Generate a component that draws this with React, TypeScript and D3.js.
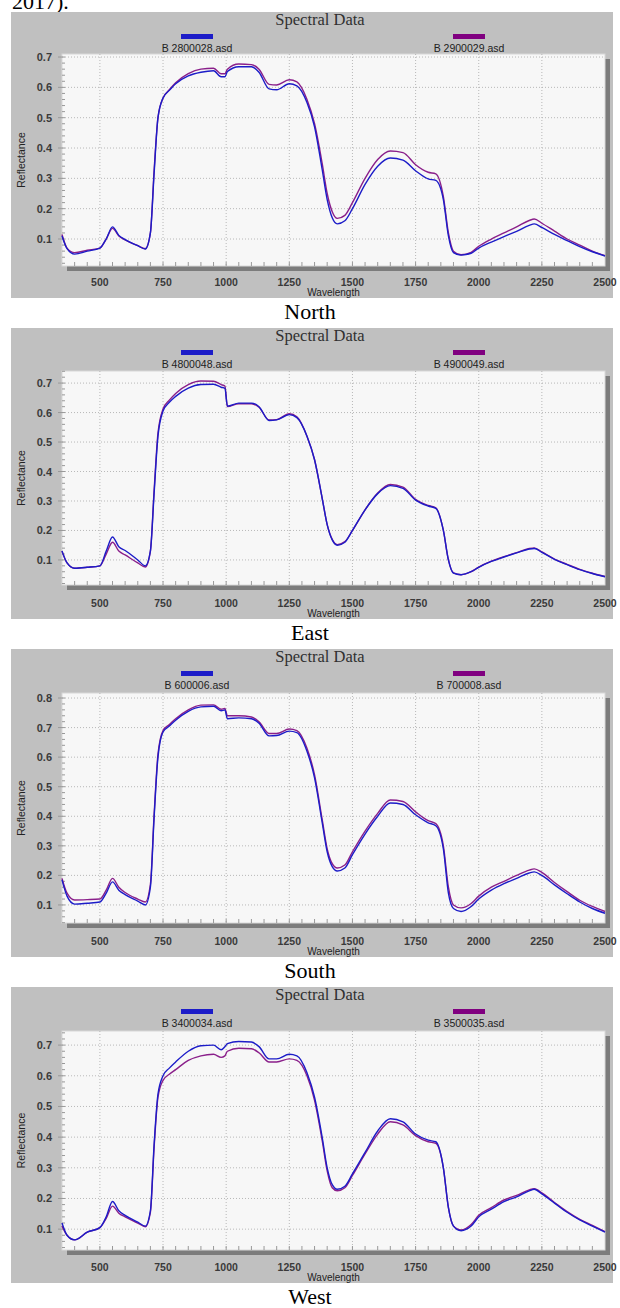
import React, { useEffect, useRef } from 'react';
import * as d3 from 'd3';

// wavelength samples (nm) shared by every spectrum
const wavelengths = [
  350, 370, 400, 450, 500, 525, 550, 575, 600, 650,
  680, 700, 715, 730, 750, 775, 800, 850, 900, 950,
  980, 995, 1005, 1050, 1100, 1130, 1170, 1200, 1250, 1280,
  1320, 1350, 1380, 1400, 1420, 1440, 1470, 1500, 1550, 1600,
  1650, 1700, 1750, 1800, 1830, 1860, 1880, 1900, 1930, 1970,
  2000, 2050, 2100, 2150, 2200, 2220, 2250, 2300, 2350, 2400, 2450, 2500,
];

const northBlue = [
  0.11, 0.068, 0.05, 0.06, 0.07, 0.1, 0.14, 0.112, 0.098, 0.078,
  0.067, 0.12, 0.32, 0.5, 0.565, 0.59, 0.612, 0.638, 0.65, 0.655,
  0.635, 0.635, 0.652, 0.668, 0.668, 0.65, 0.595, 0.592, 0.612, 0.605,
  0.55, 0.47, 0.33, 0.23, 0.17, 0.15, 0.16, 0.2, 0.28, 0.34,
  0.367, 0.36, 0.325, 0.298, 0.293, 0.23, 0.11, 0.055, 0.047, 0.053,
  0.07, 0.09, 0.108, 0.125, 0.145, 0.15, 0.138, 0.115, 0.095, 0.075, 0.058, 0.044,
];
const northPurple = [
  0.115, 0.07, 0.055, 0.063, 0.07, 0.1, 0.135, 0.11, 0.097, 0.078,
  0.068, 0.12, 0.33, 0.5, 0.565, 0.592, 0.615, 0.645, 0.66, 0.663,
  0.645, 0.645, 0.66, 0.677, 0.675, 0.66, 0.61, 0.608, 0.625, 0.618,
  0.56, 0.48, 0.35, 0.25, 0.19, 0.168, 0.178, 0.22, 0.3, 0.362,
  0.39, 0.385, 0.345, 0.32, 0.315, 0.24, 0.12, 0.06, 0.048, 0.056,
  0.076, 0.1, 0.12, 0.14, 0.161, 0.166, 0.152, 0.126, 0.1, 0.08, 0.06, 0.045,
];

const eastBlue = [
  0.13, 0.09, 0.072, 0.075, 0.08, 0.13, 0.178, 0.145, 0.132, 0.1,
  0.08, 0.13, 0.33, 0.52, 0.605, 0.635, 0.655, 0.683, 0.695, 0.696,
  0.686, 0.682, 0.622, 0.632, 0.632, 0.62, 0.573, 0.575, 0.593, 0.583,
  0.52, 0.44, 0.31, 0.22, 0.168, 0.15, 0.16, 0.2, 0.27, 0.325,
  0.352, 0.343, 0.303, 0.283, 0.275, 0.2, 0.1, 0.055, 0.05, 0.06,
  0.075, 0.095, 0.11, 0.124, 0.137, 0.139, 0.126, 0.102, 0.084, 0.067, 0.054, 0.043,
];
const eastPurple = [
  0.13, 0.09, 0.072, 0.075, 0.08, 0.12, 0.16, 0.13, 0.117, 0.09,
  0.076, 0.13, 0.34, 0.53, 0.612, 0.642, 0.665, 0.695, 0.707, 0.706,
  0.695, 0.69, 0.62, 0.63, 0.63, 0.618, 0.575, 0.576, 0.596, 0.586,
  0.52, 0.44, 0.31, 0.22, 0.17, 0.152, 0.162, 0.2, 0.27, 0.327,
  0.356, 0.347, 0.306, 0.285, 0.277, 0.2, 0.1, 0.056, 0.05, 0.06,
  0.076, 0.096, 0.111, 0.125, 0.139, 0.141, 0.127, 0.103, 0.085, 0.068, 0.055, 0.044,
];

const southBlue = [
  0.185, 0.13, 0.103, 0.106, 0.11, 0.14, 0.178, 0.15, 0.135, 0.113,
  0.1, 0.16, 0.4, 0.6, 0.685, 0.705, 0.725, 0.755, 0.77, 0.772,
  0.757, 0.76, 0.73, 0.733, 0.73, 0.715, 0.672, 0.673, 0.688, 0.683,
  0.62, 0.53, 0.38, 0.28, 0.23, 0.215, 0.225, 0.27, 0.34, 0.4,
  0.445, 0.44, 0.405, 0.378, 0.368, 0.29, 0.14, 0.088, 0.078, 0.095,
  0.12, 0.15, 0.172, 0.19, 0.208, 0.212, 0.2, 0.168, 0.138, 0.11, 0.088, 0.072,
];
const southPurple = [
  0.19, 0.14, 0.117, 0.118, 0.12, 0.15, 0.19, 0.16, 0.142, 0.12,
  0.11, 0.17, 0.41, 0.61, 0.69, 0.71, 0.73, 0.76, 0.776, 0.777,
  0.762, 0.765, 0.74, 0.74, 0.736, 0.72, 0.68, 0.68, 0.695, 0.69,
  0.63, 0.54, 0.39, 0.29, 0.24, 0.225, 0.235, 0.28, 0.35, 0.41,
  0.455, 0.45, 0.415, 0.385, 0.375, 0.3, 0.16, 0.1, 0.09, 0.105,
  0.13, 0.16, 0.18, 0.2, 0.218, 0.222, 0.21, 0.176, 0.145, 0.116, 0.095, 0.078,
];

const westBlue = [
  0.12, 0.08, 0.065, 0.09, 0.105, 0.14, 0.19, 0.16, 0.145, 0.123,
  0.11, 0.16, 0.38, 0.54, 0.6, 0.625, 0.645, 0.68, 0.698, 0.7,
  0.685, 0.695, 0.705, 0.712, 0.71, 0.695, 0.655, 0.655, 0.67, 0.665,
  0.61, 0.53, 0.4, 0.3, 0.245, 0.23, 0.24, 0.28, 0.35, 0.42,
  0.46, 0.45, 0.41, 0.39, 0.385, 0.3, 0.17, 0.11, 0.095, 0.11,
  0.14, 0.165, 0.19, 0.205, 0.225, 0.23, 0.215, 0.185, 0.155, 0.13, 0.11, 0.09,
];
const westPurple = [
  0.11, 0.08, 0.065, 0.09, 0.105, 0.135, 0.175, 0.152, 0.14, 0.12,
  0.108, 0.155, 0.37, 0.53, 0.585, 0.605, 0.62, 0.65, 0.665, 0.67,
  0.66, 0.665, 0.68, 0.69, 0.688, 0.675, 0.645, 0.645, 0.655, 0.65,
  0.6, 0.52, 0.39, 0.29, 0.235, 0.225, 0.235, 0.275, 0.345, 0.41,
  0.45, 0.44, 0.405, 0.385, 0.38, 0.3, 0.17, 0.11, 0.097, 0.115,
  0.145, 0.17, 0.195, 0.21, 0.228, 0.232, 0.218, 0.187, 0.157, 0.132, 0.112, 0.092,
];

const xTicks = [500, 750, 1000, 1250, 1500, 1750, 2000, 2250, 2500];
const yTicks7 = [0.1, 0.2, 0.3, 0.4, 0.5, 0.6, 0.7];
const yTicks8 = [0.1, 0.2, 0.3, 0.4, 0.5, 0.6, 0.7, 0.8];

const captions = ['North', 'East', 'South', 'West'];
const blueFiles = ['B 2800028.asd', 'B 4800048.asd', 'B 600006.asd', 'B 3400034.asd'];
const purpleFiles = ['B 2900029.asd', 'B 4900049.asd', 'B 700008.asd', 'B 3500035.asd'];
const blueSeries = [northBlue, eastBlue, southBlue, westBlue];
const purpleSeries = [northPurple, eastPurple, southPurple, westPurple];
const yTickSets = [yTicks7, yTicks7, yTicks8, yTicks7];

// page layout of each gray panel (pixel boxes) and its visible y range
const layouts = [
  { top: 12, bottom: 298, plotTop: 54, plotBottom: 266, yLow: 0.011, yHigh: 0.71 },
  { top: 328, bottom: 619, plotTop: 371, plotBottom: 585, yLow: 0.015, yHigh: 0.741 },
  { top: 649, bottom: 957, plotTop: 693, plotBottom: 923, yLow: 0.039, yHigh: 0.817 },
  { top: 987, bottom: 1283, plotTop: 1031, plotBottom: 1250, yLow: 0.032, yHigh: 0.746 },
];

const BLUE = '#1c1cc8';
const PURPLE = '#8a1f8a';
const SANS = 'Arial, "Liberation Sans", Helvetica, sans-serif';
const SERIF = '"Times New Roman", "Liberation Serif", serif';

const SpectralPanel = ({ layout, blue, purple, blueName, purpleName, yTicks, caption }) => {
  const gRef = useRef();

  useEffect(() => {
    const g = d3.select(gRef.current);
    g.selectAll('*').remove();

    const { top, bottom, plotTop, plotBottom, yLow, yHigh } = layout;
    const left = 62;
    const right = 605;

    const x = d3.scaleLinear().domain([350, 2500]).range([left, right]);
    const y = d3.scaleLinear().domain([yLow, yHigh]).range([plotBottom, plotTop]);

    // gray window
    g.append('rect')
      .attr('x', 11).attr('y', top)
      .attr('width', 602).attr('height', bottom - top)
      .attr('fill', '#c0c0c0');

    g.append('text')
      .attr('x', 320).attr('y', top + 13)
      .attr('text-anchor', 'middle')
      .attr('font-family', SERIF)
      .attr('font-size', 16.5)
      .attr('fill', '#303030')
      .text('Spectral Data');

    // legend
    [[blueName, BLUE, 197], [purpleName, '#800080', 469]].forEach(([name, color, cx]) => {
      g.append('rect')
        .attr('x', cx - 16).attr('y', top + 22)
        .attr('width', 32).attr('height', 5)
        .attr('fill', color);
      g.append('text')
        .attr('x', cx).attr('y', top + 39.5)
        .attr('text-anchor', 'middle')
        .attr('font-family', SANS)
        .attr('font-size', 10.5)
        .attr('fill', '#222')
        .text(name);
    });

    // shadow + plot area
    g.append('rect')
      .attr('x', left + 5).attr('y', plotTop + 5)
      .attr('width', right - left).attr('height', plotBottom - plotTop)
      .attr('fill', '#7c7c7c');
    g.append('rect')
      .attr('x', left).attr('y', plotTop)
      .attr('width', right - left).attr('height', plotBottom - plotTop)
      .attr('fill', '#f7f7f7')
      .attr('stroke', '#d8d8d8')
      .attr('stroke-width', 1);

    // dotted grid
    xTicks.filter(t => t < 2500).forEach(t => {
      g.append('line')
        .attr('x1', x(t)).attr('x2', x(t))
        .attr('y1', plotTop).attr('y2', plotBottom)
        .attr('stroke', '#a8a8a8')
        .attr('stroke-width', 0.8)
        .attr('stroke-dasharray', '1,2');
    });
    yTicks.forEach(t => {
      g.append('line')
        .attr('x1', left).attr('x2', right)
        .attr('y1', y(t)).attr('y2', y(t))
        .attr('stroke', '#a8a8a8')
        .attr('stroke-width', 0.8)
        .attr('stroke-dasharray', '1,2');
    });

    // minor ticks inside the frame
    d3.range(400, 2500, 50).forEach(t => {
      g.append('line')
        .attr('x1', x(t)).attr('x2', x(t))
        .attr('y1', plotBottom).attr('y2', plotBottom - 4)
        .attr('stroke', '#999');
    });
    d3.range(0.02, yHigh, 0.02).filter(t => t > yLow).forEach(t => {
      g.append('line')
        .attr('x1', left).attr('x2', left + 3)
        .attr('y1', y(t)).attr('y2', y(t))
        .attr('stroke', '#999');
    });

    // y axis labels
    yTicks.forEach(t => {
      g.append('line')
        .attr('x1', left - 4).attr('x2', left)
        .attr('y1', y(t)).attr('y2', y(t))
        .attr('stroke', '#999');
      g.append('text')
        .attr('x', left - 10).attr('y', y(t) + 4)
        .attr('text-anchor', 'end')
        .attr('font-family', SANS)
        .attr('font-size', 11)
        .attr('font-weight', 'bold')
        .attr('fill', '#3a3a3a')
        .text(d3.format('.1f')(t));
    });

    // x axis labels
    xTicks.forEach(t => {
      g.append('text')
        .attr('x', x(t)).attr('y', bottom - 12.5)
        .attr('text-anchor', 'middle')
        .attr('font-family', SANS)
        .attr('font-size', 10.5)
        .attr('font-weight', 'bold')
        .attr('fill', '#3a3a3a')
        .text(t);
    });

    g.append('text')
      .attr('x', (left + right) / 2).attr('y', bottom - 2)
      .attr('text-anchor', 'middle')
      .attr('font-family', SANS)
      .attr('font-size', 10)
      .attr('fill', '#222')
      .text('Wavelength');

    g.append('text')
      .attr('transform', `rotate(-90)`)
      .attr('x', -(plotTop + plotBottom) / 2)
      .attr('y', 25)
      .attr('text-anchor', 'middle')
      .attr('font-family', SANS)
      .attr('font-size', 10.5)
      .attr('fill', '#222')
      .text('Reflectance');

    // spectra
    const line = d3.line()
      .x((d, i) => x(wavelengths[i]))
      .y(d => y(d))
      .curve(d3.curveMonotoneX);

    g.append('path')
      .datum(purple)
      .attr('fill', 'none')
      .attr('stroke', PURPLE)
      .attr('stroke-width', 1.4)
      .attr('d', line);

    g.append('path')
      .datum(blue)
      .attr('fill', 'none')
      .attr('stroke', BLUE)
      .attr('stroke-width', 1.4)
      .attr('d', line);

    // caption under the panel
    g.append('text')
      .attr('x', 310).attr('y', bottom + 21)
      .attr('text-anchor', 'middle')
      .attr('font-family', SERIF)
      .attr('font-size', 22)
      .attr('fill', '#000')
      .text(caption);
  }, [layout, blue, purple, blueName, purpleName, yTicks, caption]);

  return <g ref={gRef} />;
};

export default function App() {
  return (
    <svg width={620} height={1308} style={{ position: 'absolute', left: 0, top: 0 }}>
      <rect width={620} height={1308} fill="#fff" />
      <text x={12} y={9} fontFamily={SERIF} fontSize={22} fill="#000">2017).</text>
      {layouts.map((layout, i) => (
        <SpectralPanel
          key={captions[i]}
          layout={layout}
          blue={blueSeries[i]}
          purple={purpleSeries[i]}
          blueName={blueFiles[i]}
          purpleName={purpleFiles[i]}
          yTicks={yTickSets[i]}
          caption={captions[i]}
        />
      ))}
    </svg>
  );
}
